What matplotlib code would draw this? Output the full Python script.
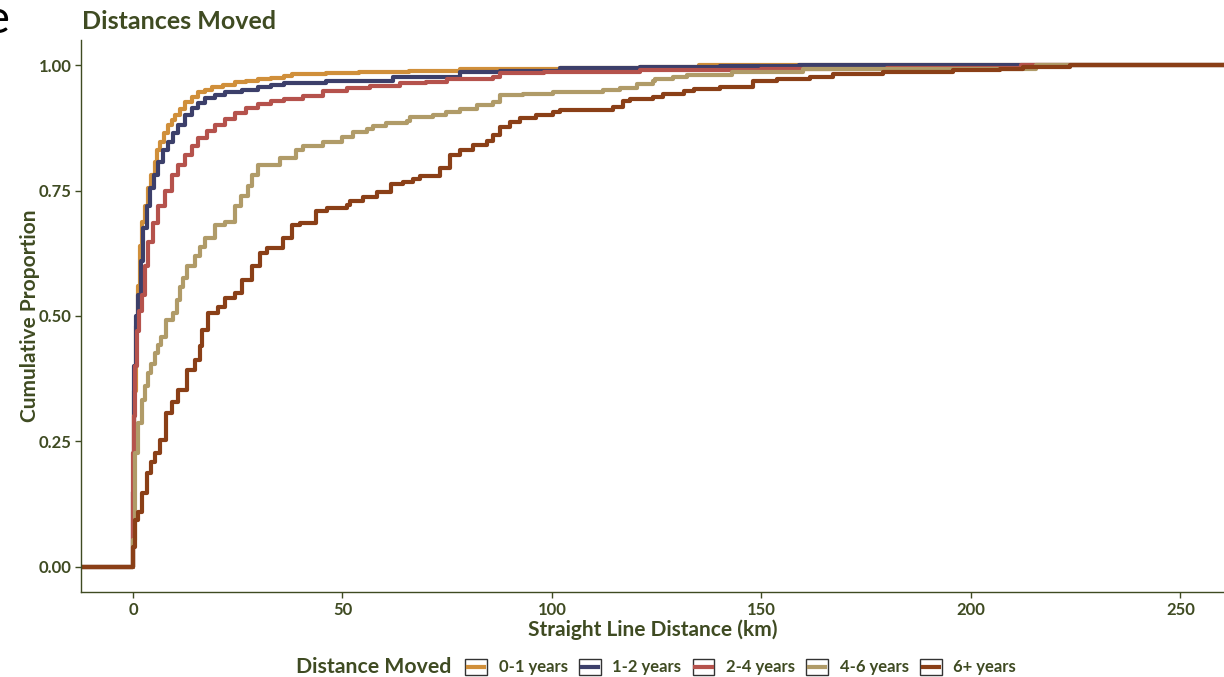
import matplotlib
matplotlib.use("Agg")
import matplotlib.pyplot as plt
from matplotlib.lines import Line2D
from matplotlib.patches import Rectangle
from matplotlib.legend_handler import HandlerBase

plt.rcParams['font.family'] = ['Lato', 'DejaVu Sans']

# ECDF knots: distance (km) and cumulative proportion
groups = ['0-1 years', '1-2 years', '2-4 years', '4-6 years', '6+ years']
colors = ['#D08F3A', '#3C3F6A', '#B5524C', '#B09B68', '#8A3F17']

d01 = [0, 0.2, 0.7, 1.3, 1.7, 2.1, 2.9, 3.7, 4.4, 5.2, 5.8, 6.4, 7.4, 8.4, 9.2, 10, 11.2, 12.4, 14,
       15.6, 17.2, 18.8, 21.5, 24.3, 27, 29.8, 33, 36, 38, 46, 54, 66, 78, 90, 102, 121, 135]
p01 = [0.15, 0.35, 0.48, 0.56, 0.64, 0.687, 0.72, 0.755, 0.78, 0.807, 0.83, 0.847, 0.865, 0.88, 0.89,
       0.90, 0.913, 0.926, 0.937, 0.946, 0.951, 0.956, 0.961, 0.966, 0.969, 0.972, 0.975, 0.978, 0.982,
       0.984, 0.986, 0.989, 0.992, 0.993, 0.994, 0.996, 1.0]

d12 = [0, 0.3, 0.8, 1.3, 1.9, 2.5, 3.3, 4.1, 5, 6, 7.2, 8.4, 9.6, 10.8, 12.4, 14, 15.6, 17.2, 19.6, 22,
       26, 29.8, 33, 36, 46, 62, 78, 87.6, 102, 121, 140, 159]
p12 = [0.15, 0.40, 0.50, 0.542, 0.61, 0.675, 0.72, 0.755, 0.78, 0.807, 0.83, 0.847, 0.865, 0.88, 0.90,
       0.914, 0.925, 0.934, 0.941, 0.946, 0.951, 0.956, 0.96, 0.964, 0.968, 0.976, 0.986, 0.988, 0.994,
       0.996, 0.998, 1.0]

d24 = [0, 0.1, 0.3, 0.6, 1.0, 1.5, 2.1, 2.9, 3.7, 4.8, 6, 7.6, 9.2, 10.8, 12.4, 14, 15.6, 17.6, 19.6,
       22, 24.3, 27, 29.8, 33, 36, 40.6, 45.4, 51, 56.6, 63.7, 70, 74.9, 86, 87.6, 98, 121, 150, 180, 212]
p24 = [0.10, 0.227, 0.30, 0.40, 0.47, 0.51, 0.542, 0.60, 0.647, 0.685, 0.72, 0.75, 0.78, 0.80, 0.82,
       0.838, 0.854, 0.868, 0.88, 0.893, 0.904, 0.914, 0.922, 0.928, 0.932, 0.938, 0.948, 0.954, 0.958,
       0.964, 0.966, 0.972, 0.976, 0.984, 0.986, 0.99, 0.992, 0.995, 1.0]

d46 = [0, 0.5, 1.3, 2.1, 2.9, 3.7, 4.4, 5.2, 6, 6.8, 8, 9.6, 10.4, 11.2, 12, 12.8, 14.8, 16, 17.2,
       19.6, 22, 24.3, 25.8, 27.4, 28.5, 29.8, 35, 39, 40.6, 45.4, 49.8, 52.6, 55.8, 57.4, 60.5, 65.3,
       66.1, 71.7, 74.8, 78, 82, 86, 87.6, 93.1, 100.3, 112.2, 116.2, 120.2, 124.2, 124.6, 129, 132.2,
       143, 160, 215.5]
p46 = [0.054, 0.227, 0.287, 0.333, 0.36, 0.386, 0.405, 0.426, 0.442, 0.458, 0.492, 0.505, 0.532,
       0.558, 0.575, 0.60, 0.62, 0.637, 0.655, 0.681, 0.687, 0.72, 0.74, 0.76, 0.78, 0.80, 0.815, 0.83,
       0.838, 0.846, 0.857, 0.866, 0.872, 0.878, 0.884, 0.888, 0.896, 0.90, 0.906, 0.912, 0.92, 0.926,
       0.94, 0.942, 0.946, 0.95, 0.954, 0.962, 0.968, 0.973, 0.977, 0.98, 0.987, 0.992, 1.0]

d6p = [0, 0.5, 1.3, 2.1, 3.3, 4.2, 5.2, 6.4, 8, 9.2, 10.8, 12.8, 14.8, 16, 16.4, 18, 20.4, 22, 24.3,
       26, 28.3, 30.3, 31.9, 35.9, 37.9, 39.9, 43.8, 46.2, 51, 51.8, 55, 58.2, 61.7, 64.5, 66.9, 68.5,
       73.3, 75.7, 78, 81.2, 84.4, 86, 87.6, 90, 92.4, 96.3, 100.3, 101.9, 114.6, 117, 118.6, 124.2,
       126.6, 131.4, 133.8, 140.1, 148, 153.6, 161.6, 167.1, 179, 195.7, 207, 212.4, 223.6]
p6p = [0.04, 0.094, 0.11, 0.147, 0.187, 0.21, 0.227, 0.253, 0.306, 0.329, 0.352, 0.392, 0.412, 0.44,
       0.472, 0.505, 0.518, 0.535, 0.545, 0.572, 0.60, 0.625, 0.635, 0.655, 0.681, 0.685, 0.709, 0.715,
       0.721, 0.729, 0.737, 0.747, 0.763, 0.767, 0.773, 0.779, 0.795, 0.821, 0.831, 0.841, 0.849, 0.861,
       0.876, 0.886, 0.894, 0.90, 0.906, 0.91, 0.916, 0.928, 0.933, 0.937, 0.943, 0.948, 0.952, 0.957,
       0.968, 0.972, 0.977, 0.982, 0.987, 0.99, 0.993, 0.997, 1.0]

distances = [d01, d12, d24, d46, d6p]
proportions = [p01, p12, p24, p46, p6p]

xticks = [0, 50, 100, 150, 200, 250]
yticks = [0.00, 0.25, 0.50, 0.75, 1.00]

olive = '#3F4B22'
xmin, xmax = -12.4, 260.4


class BoxLine(HandlerBase):
    # ggplot-style legend key: outlined square with the line through its middle
    def create_artists(self, legend, orig_handle, xdescent, ydescent, width, height, fontsize, trans):
        rect = Rectangle((-xdescent, -ydescent), width, height, facecolor='white',
                         edgecolor='#333333', lw=1.0, transform=trans)
        y = -ydescent + height / 2
        ln = Line2D([-xdescent + width * 0.12, -xdescent + width * 0.88], [y, y],
                    color=orig_handle.get_color(), lw=3.0, transform=trans)
        return [rect, ln]


fig = plt.figure(figsize=(12.24, 6.77), dpi=100)
ax = fig.add_axes([81 / 1224, 1 - 592 / 677, 1 - 81 / 1224, (592 - 40) / 677])

for d, p, c in zip(distances, proportions, colors):
    # pad the ECDF out to both ends of the panel like stat_ecdf does
    ax.step([xmin] + d + [xmax], [0] + p + [p[-1]], where='post', color=c, lw=3.0)

ax.set_xlim(xmin, xmax)
ax.set_ylim(-0.05, 1.05)
ax.set_xticks(xticks)
ax.set_yticks(yticks)
ax.set_yticklabels([f'{t:.2f}' for t in yticks])
for s in ['top', 'right']:
    ax.spines[s].set_visible(False)
for s in ['left', 'bottom']:
    ax.spines[s].set_color(olive)
    ax.spines[s].set_linewidth(1.0)
ax.tick_params(colors=olive, length=4, width=1.0, pad=3, labelsize=12)
for lab in ax.get_xticklabels() + ax.get_yticklabels():
    lab.set_fontweight('bold')

ax.set_xlabel('Straight Line Distance (km)', fontsize=15, fontweight='bold', color=olive, labelpad=1)
ax.set_ylabel('Cumulative Proportion', fontsize=15, fontweight='bold', color=olive, labelpad=-1)

fig.text(82 / 1224, 1 - 29 / 677, 'Distances Moved', fontsize=18, fontweight='bold', color=olive,
         ha='left', va='baseline')
# cropped panel letter at the very left edge
fig.text(10 / 1224, 1 - 33 / 677, 'e', fontsize=34, color='black', ha='right', va='baseline')

handles = [Line2D([], [], color=c, lw=3.0) for c in colors]

fig.text(451 / 1224, 1 - 667 / 677, 'Distance Moved', fontsize=15.3, fontweight='bold', color=olive,
         ha='right', va='center')
leg = fig.legend(handles, groups, loc='center left', bbox_to_anchor=(457 / 1224, 1 - 667 / 677),
                 ncol=5, frameon=False, borderpad=0, handlelength=1.3, handleheight=1.1,
                 handletextpad=0.7, columnspacing=0.68, prop={'size': 12, 'weight': 'bold'},
                 handler_map={Line2D: BoxLine()})
for t in leg.get_texts():
    t.set_color(olive)

fig.savefig('out.png', dpi=100)
